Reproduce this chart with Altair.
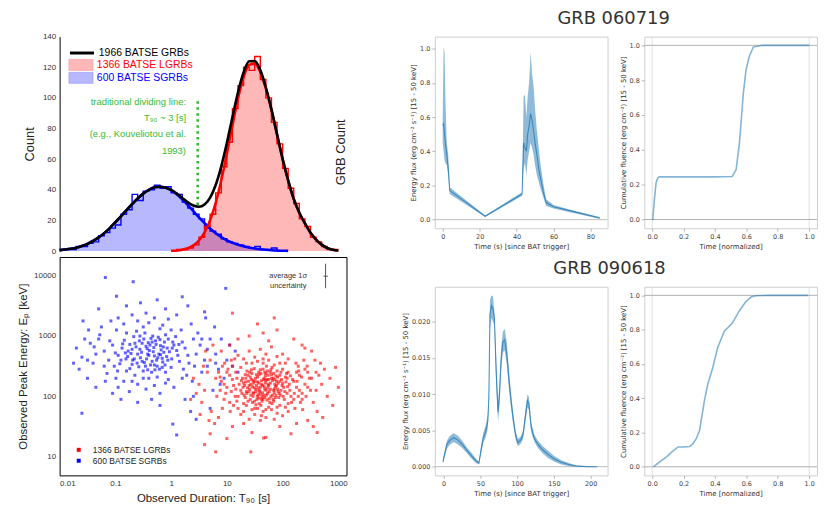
import altair as alt
import pandas as pd

LEFT_FONT = "Liberation Sans"
RIGHT_FONT = "DejaVu Sans"
MPL_BLUE = "#1f77b4"

# ---------------- duration distribution (top-left) ----------------
grid_log_t90 = [-2.0, -1.9, -1.8, -1.7, -1.6, -1.5, -1.4, -1.3, -1.2, -1.1,
                -1.0, -0.9, -0.8, -0.7, -0.6, -0.5, -0.4, -0.3, -0.2, -0.1,
                0.0, 0.1, 0.2, 0.3, 0.4, 0.5, 0.6, 0.7, 0.8, 0.9,
                1.0, 1.1, 1.2, 1.3, 1.4, 1.5, 1.6, 1.7, 1.8, 1.9,
                2.0, 2.1, 2.2, 2.3, 2.4, 2.5, 2.6, 2.7, 2.8, 2.9, 3.0]
sgrb_fit = [0.6, 1.0, 1.5, 2.2, 3.3, 4.7, 6.6, 8.9, 11.7, 15.0,
            18.8, 22.7, 26.7, 30.6, 34.3, 37.5, 40.0, 41.6, 42.0, 41.4,
            39.7, 37.1, 33.8, 30.0, 26.0, 22.0, 18.2, 14.7, 11.6, 9.1,
            7.0, 5.4, 4.1, 3.1, 2.3, 1.7, 1.2, 0.8, 0.5, 0.3,
            0.2, 0.1, 0, 0, 0, 0, 0, 0, 0, 0, 0]
lgrb_fit = [0, 0, 0, 0, 0, 0, 0, 0, 0, 0,
            0, 0, 0, 0, 0, 0, 0, 0, 0, 0,
            0.2, 0.4, 0.9, 1.8, 3.7, 6.9, 12.2, 20.2, 31.5, 46.2,
            63.5, 82.0, 99.6, 113.5, 121.6, 122.4, 117.0, 106.0, 92.0, 76.0,
            60.0, 46.0, 34.0, 25.0, 18.0, 12.0, 7.5, 4.2, 2.0, 0.8, 0.3]
all_fit = [0.6, 1.0, 1.5, 2.2, 3.3, 4.7, 6.6, 8.9, 11.7, 15.0,
           18.8, 22.7, 26.7, 30.6, 34.3, 37.5, 40.0, 41.6, 42.0, 41.4,
           39.9, 37.5, 34.7, 31.8, 29.7, 28.9, 30.4, 34.9, 43.1, 55.3,
           70.5, 87.4, 103.7, 116.6, 123.9, 124.1, 118.2, 106.8, 92.5, 76.3,
           60.2, 46.1, 34.0, 25.0, 18.0, 12.0, 7.5, 4.2, 2.0, 0.8, 0.3]
# histogram counts per 0.1-dex bin (left edges = grid_log_t90[:-1])
sgrb_counts = [1, 1, 1, 3, 3, 5, 6, 10, 12, 15,
               17, 24, 27, 37, 33, 39, 40, 43, 41, 42,
               38, 37, 32, 28, 24, 21, 15, 13, 11, 8,
               6, 5, 4, 3, 2, 3, 1, 1, 2, 0,
               0, 0, 0, 0, 0, 0, 0, 0, 0, 0]
lgrb_counts = [0, 0, 0, 0, 0, 0, 0, 0, 0, 0,
               0, 0, 0, 0, 0, 0, 0, 0, 0, 0,
               0, 1, 1, 2, 4, 9, 16, 24, 38, 55,
               71, 93, 108, 120, 118, 127, 112, 100, 84, 70,
               54, 41, 31, 21, 16, 9, 6, 3, 1, 1]
hist_legend_entries = ["1966 BATSE GRBs", "1366 BATSE LGRBs", "600 BATSE SGRBs"]
divider_t90 = 3.0
divider_counts = [30, 100]
divider_text = ["traditional dividing line:", "T\u2089\u2080 ~ 3 [s]",
                "(e.g., Kouveliotou et al.", "1993)"]
divider_text_t90 = 1.85
divider_text_counts = [97.6, 86.7, 76.4, 65.5]

# ---------------- T90 - Ep scatter (bottom-left), log10 values ----------------
sgrb_points = [
    (-0.42, 2.70), (-0.31, 2.81), (-0.55, 2.64), (-0.18, 2.77), (-0.65, 2.88), (-0.37, 2.52), (-0.08, 2.66),
    (-0.49, 2.95), (-0.26, 2.60), (-0.72, 2.71), (-0.12, 2.90), (-0.58, 2.49), (-0.33, 3.00), (-0.03, 2.74),
    (-0.81, 2.62), (-0.45, 2.83), (-0.21, 2.45), (-0.67, 2.99), (0.05, 2.85), (-0.52, 2.58), (-0.39, 2.76),
    (-0.15, 2.57), (-0.88, 2.80), (-0.28, 2.92), (-0.61, 2.55), (0.01, 2.62), (-0.47, 3.05), (-0.74, 2.46),
    (-0.22, 2.70), (-0.95, 2.68), (-0.35, 2.40), (0.10, 2.76), (-0.56, 2.78), (-0.10, 3.02), (-0.69, 2.60),
    (-0.41, 2.89), (-0.19, 2.84), (-0.84, 2.93), (-0.30, 2.67), (0.15, 2.58), (-0.50, 2.42), (-0.05, 2.95),
    (-0.77, 2.75), (-0.25, 2.50), (-0.62, 3.08), (-0.13, 2.73), (-0.44, 2.62), (-0.92, 2.54), (0.08, 2.99),
    (-0.36, 2.96), (-0.40, 2.68), (-0.27, 2.86), (-0.53, 2.73), (-0.16, 2.63), (-0.63, 2.82), (-0.34, 2.58),
    (-0.07, 2.80), (-0.46, 2.50), (-0.23, 2.98), (-0.78, 2.66), (-0.11, 2.52), (-0.57, 2.92), (-0.32, 2.74),
    (0.03, 2.90), (-0.70, 2.53), (-0.43, 2.79), (-0.19, 2.69), (-0.87, 2.87), (-0.29, 2.44), (0.12, 2.68),
    (-1.05, 2.85), (-1.12, 2.60), (-0.98, 3.10), (-1.20, 2.75), (-1.30, 2.95), (-1.15, 2.38), (-1.02, 2.50),
    (-1.35, 2.70), (-1.25, 3.15), (-1.40, 2.55), (-1.08, 3.25), (-1.45, 2.88), (-1.18, 2.25), (-0.99, 2.30),
    (-1.28, 3.02), (0.25, 2.80), (0.32, 2.55), (0.40, 2.95), (0.18, 3.10), (0.45, 2.70), (0.28, 2.35),
    (0.52, 2.85), (0.36, 3.20), (0.60, 2.60), (0.22, 2.45), (0.48, 3.05), (0.65, 2.78), (0.38, 2.25),
    (0.70, 2.95), (0.55, 2.40), (-0.60, 3.25), (-0.30, 3.30), (-0.85, 3.20), (-0.05, 3.28), (-0.45, 3.38),
    (-0.70, 3.35), (-0.15, 3.18), (-0.95, 3.30), (-0.40, 3.22), (0.10, 3.35), (-0.60, 2.20), (-0.30, 2.18),
    (-0.85, 2.25), (-0.05, 2.28), (-0.45, 2.12), (-0.75, 2.08), (-0.20, 2.05), (0.05, 2.15), (-0.50, 2.30),
    (-0.95, 2.15), (-0.25, 2.32), (-0.65, 2.35), (-0.10, 2.40), (-0.80, 2.42), (0.00, 2.48), (-1.60, 2.65),
    (-1.55, 2.95), (-1.65, 2.45), (-1.50, 2.30), (-1.70, 2.80), (-1.48, 3.10), (-1.75, 2.55), (-1.58, 3.25),
    (0.80, 2.70), (0.85, 2.45), (0.90, 2.95), (0.78, 3.15), (0.95, 2.30), (1.00, 2.60), (0.88, 2.20),
    (1.05, 2.85), (0.75, 2.10), (1.10, 2.50), (-0.55, 3.55), (-0.98, 3.66), (-1.18, 3.97), (-0.68, 3.90),
    (0.98, 3.79), (-0.25, 3.60), (0.30, 3.50), (-1.30, 3.45), (0.60, 3.40), (-0.80, 3.50), (0.20, 3.65),
    (-0.10, 3.45), (-1.60, 1.72), (-0.60, 1.90), (-0.20, 1.85), (0.40, 2.00), (0.70, 1.80), (0.45, 1.62),
    (-1.05, 2.05), (-1.35, 2.15), (0.25, 1.95), (-0.35, 1.95), (1.20, 2.40), (1.15, 2.75), (0.62, 3.30),
    (0.35, 1.75), (-0.90, 1.95), (0.03, 1.54), (0.10, 1.36),
    (-0.38, 2.85), (-0.24, 2.64), (-0.60, 2.70), (-0.14, 2.82), (-0.48, 2.56), (-0.70, 2.78), (-0.30, 2.52),
    (-0.06, 2.60), (-0.52, 2.88), (-0.20, 2.94), (-0.82, 2.72), (-0.42, 2.44), (0.02, 2.80), (-0.66, 2.62),
    (-0.34, 2.90), (-0.90, 2.60), (-0.16, 2.48), (-0.56, 3.00), (0.14, 2.86), (-0.74, 2.86), (-1.00, 2.72),
    (-1.10, 2.92), (-0.96, 2.42), (0.30, 2.68), (0.42, 2.50), (0.20, 2.90), (-0.50, 3.15), (-0.20, 3.12),
    (-0.80, 3.05), (0.00, 3.10), (-0.40, 2.30), (-0.70, 2.25), (-0.10, 2.22), (0.20, 2.30), (-1.20, 2.50),
    (-1.38, 2.82), (0.55, 2.95), (0.65, 2.50), (-1.50, 2.60), (0.80, 2.55),
]
lgrb_points = [
    (1.60, 2.15), (1.72, 2.28), (1.48, 2.05), (1.85, 2.12), (1.55, 2.32), (1.68, 1.98), (1.92, 2.22),
    (1.40, 2.18), (1.78, 2.40), (1.63, 1.92), (1.50, 2.25), (1.88, 2.02), (1.35, 2.08), (1.95, 2.35),
    (1.70, 2.10), (1.45, 2.38), (2.02, 2.15), (1.58, 1.88), (1.80, 2.30), (1.30, 2.22), (1.65, 2.45),
    (2.08, 2.05), (1.42, 1.95), (1.75, 2.18), (1.52, 2.12), (1.98, 2.28), (1.38, 2.35), (1.83, 1.95),
    (1.62, 2.26), (2.12, 2.20), (1.25, 2.10), (1.90, 2.42), (1.47, 2.00), (1.73, 2.05), (1.57, 2.40),
    (2.05, 2.32), (1.33, 1.98), (1.86, 2.20), (1.66, 2.02), (1.44, 2.28), (1.28, 2.30), (1.97, 2.10),
    (1.54, 1.95), (1.81, 2.48), (1.69, 2.22), (2.15, 2.00), (1.36, 2.42), (1.77, 1.90), (1.59, 2.08),
    (2.00, 2.45), (1.22, 2.20), (1.93, 1.98), (1.49, 2.46), (1.74, 2.35), (1.61, 1.85), (2.18, 2.28),
    (1.31, 2.02), (1.84, 2.38), (1.67, 2.16), (1.41, 2.12), (1.20, 2.00), (1.89, 2.25), (1.53, 2.18),
    (1.79, 2.00), (1.46, 1.90), (2.10, 2.40), (1.39, 2.25), (1.71, 2.50), (1.56, 2.03), (2.03, 1.95),
    (1.62, 2.20), (1.76, 2.08), (1.51, 2.30), (1.87, 2.16), (1.43, 2.02), (1.69, 2.34), (1.94, 2.05),
    (1.57, 1.97), (1.82, 2.26), (1.37, 2.14), (1.64, 2.06), (1.79, 2.44), (1.48, 2.22), (2.06, 2.24),
    (1.34, 2.30), (1.72, 1.94), (1.58, 2.36), (1.91, 2.32), (1.27, 2.05), (1.85, 2.06), (1.66, 2.28),
    (1.52, 2.08), (2.13, 2.10), (1.41, 2.40), (1.73, 2.14), (1.97, 2.40), (1.46, 2.16), (1.81, 1.88),
    (1.60, 2.44), (2.01, 2.00), (1.68, 2.12), (1.55, 2.24), (1.88, 2.34), (1.32, 2.18), (1.78, 2.22),
    (1.63, 2.00), (2.08, 2.30), (1.50, 1.92), (1.84, 2.10), (1.70, 2.38),
    (1.00, 2.15), (1.05, 2.35), (0.95, 1.95), (1.10, 2.50), (0.90, 2.25), (1.12, 1.85), (0.98, 2.05),
    (1.08, 2.60), (0.85, 2.40), (1.15, 2.00), (0.88, 2.10), (1.02, 2.45), (0.92, 1.80), (1.18, 2.30),
    (0.82, 2.00), (1.14, 2.62), (0.96, 2.55), (1.06, 1.75), (0.80, 2.30), (1.16, 2.12), (2.25, 2.15),
    (2.30, 2.35), (2.20, 1.95), (2.35, 2.05), (2.28, 2.50), (2.40, 2.20), (2.22, 1.80), (2.45, 2.40),
    (2.32, 1.90), (2.38, 2.60), (2.26, 2.25), (2.42, 2.00), (2.48, 2.30), (2.24, 2.55), (2.36, 1.78),
    (2.50, 2.10), (2.29, 2.42), (2.44, 2.50), (2.21, 2.05), (2.34, 2.32), (1.50, 2.65), (1.70, 2.70),
    (1.30, 2.62), (1.90, 2.66), (1.60, 2.78), (1.80, 2.82), (1.40, 2.75), (2.00, 2.70), (1.20, 2.68),
    (2.10, 2.62), (1.55, 2.58), (1.75, 2.60), (1.35, 2.55), (1.95, 2.55), (1.65, 2.62), (1.50, 1.70),
    (1.70, 1.65), (1.30, 1.75), (1.90, 1.72), (1.60, 1.60), (1.80, 1.78), (1.40, 1.62), (2.00, 1.68),
    (1.20, 1.80), (2.10, 1.75), (1.55, 1.80), (1.75, 1.82), (1.35, 1.85), (1.95, 1.85), (1.65, 1.75),
    (1.45, 1.78), (1.85, 1.62), (2.05, 1.82), (1.25, 1.70), (1.62, 1.68),
    (0.60, 2.10), (0.65, 2.40), (0.55, 1.90), (0.70, 2.60), (0.50, 2.20), (0.72, 1.75), (0.62, 2.75),
    (0.45, 2.05), (0.68, 1.60), (0.58, 2.50), (0.40, 2.30), (0.75, 2.85), (0.35, 1.95), (0.52, 1.70),
    (0.78, 1.55), (2.60, 2.10), (2.65, 2.35), (2.55, 1.90), (2.70, 2.20), (2.58, 2.60), (2.75, 2.45),
    (2.62, 1.75), (2.80, 2.00), (2.68, 2.55), (2.85, 2.30), (2.90, 1.85), (2.95, 2.48), (2.72, 1.65),
    (2.52, 2.75), (3.00, 2.15), (1.40, 3.00), (1.65, 3.05), (1.90, 3.10), (1.20, 2.95), (2.20, 2.95),
    (1.55, 3.20), (1.75, 2.92), (2.35, 2.85), (1.05, 2.85), (1.85, 3.30), (1.45, 1.40), (1.95, 1.50),
    (1.10, 1.50), (2.25, 1.55), (1.70, 1.32), (2.45, 1.60), (1.30, 1.55), (2.15, 1.38), (0.85, 1.65),
    (2.55, 1.50), (0.90, 2.75), (2.40, 2.80), (0.70, 1.38), (1.00, 1.30), (2.62, 1.40), (1.10, 3.38),
    (0.60, 1.20), (0.80, 1.08), (1.43, 1.08), (1.66, 1.31),
    (1.58, 2.10), (1.74, 2.20), (1.49, 2.14), (1.83, 2.30), (1.65, 1.95), (1.91, 2.12), (1.42, 2.32),
    (1.70, 2.26), (1.55, 2.00), (1.99, 2.18), (1.36, 2.05), (1.78, 2.12), (1.61, 2.38), (1.87, 1.98),
    (1.47, 2.26), (2.04, 2.08), (1.29, 2.15), (1.82, 2.02), (1.67, 2.30), (1.52, 1.86), (1.95, 2.25),
    (1.40, 2.08), (1.73, 2.42), (1.60, 2.04), (2.09, 2.16), (1.34, 2.24), (1.86, 2.28), (1.56, 2.14),
    (1.76, 1.96), (1.44, 2.44), (2.14, 2.34), (1.64, 2.18), (1.92, 2.08), (1.38, 1.92), (1.71, 2.02),
    (1.53, 2.36), (1.89, 2.18), (1.47, 2.06), (1.80, 2.36), (2.00, 2.22), (1.26, 2.26), (1.68, 2.40),
    (1.57, 2.22), (1.84, 1.92), (1.43, 2.20), (1.96, 2.02), (1.33, 2.36), (1.75, 2.28), (1.62, 1.96),
    (2.07, 2.38), (1.12, 2.18), (1.16, 2.40), (1.08, 2.08), (2.20, 2.25), (2.25, 2.40), (2.16, 1.90),
    (1.18, 1.92), (2.30, 2.10), (1.10, 2.28), (2.28, 2.00), (1.45, 2.55), (1.85, 2.52), (1.65, 2.55),
    (1.25, 2.48), (2.05, 2.55), (1.50, 1.80), (1.90, 1.82), (1.70, 1.78), (1.30, 1.88), (2.10, 1.88),
    (1.00, 2.40), (0.95, 2.20), (2.40, 2.45), (2.35, 1.95), (0.88, 2.32), (2.45, 2.15), (1.05, 1.90),
    (2.52, 2.30), (0.92, 2.50), (2.60, 2.40),
]
scatter_labels = ["1366 BATSE LGRBs", "600 BATSE SGRBs"]
uncert_center = (590, 9800)
uncert_t90_range = (540, 650)
uncert_ep_range = (6200, 15800)
uncert_text_pos = (126, 9800)

# ---------------- GRB light curves (right) ----------------
g060719_t = [0.0, 0.5, 1.0, 1.5, 2.2, 3.0, 3.8, 23.0, 43.0, 43.8, 44.5, 45.3, 46.0, 46.8, 47.6,
             48.4, 49.2, 50.0, 51.0, 52.0, 53.0, 54.5, 56.0, 60.0, 70.0, 85.0]
g060719_lo = [0.45, 0.40, 0.35, 0.33, 0.32, 0.26, 0.15, 0.015, 0.14, 0.30, 0.33, 0.26, 0.35, 0.40,
              0.45, 0.42, 0.38, 0.32, 0.26, 0.22, 0.18, 0.13, 0.08, 0.065, 0.04, 0.005]
g060719_mid = [0.55, 0.56, 0.50, 0.45, 0.38, 0.30, 0.17, 0.02, 0.15, 0.45, 0.42, 0.40, 0.50, 0.55,
               0.62, 0.58, 0.52, 0.45, 0.38, 0.30, 0.24, 0.16, 0.10, 0.075, 0.05, 0.01]
g060719_hi = [0.60, 1.01, 0.98, 0.70, 0.45, 0.38, 0.19, 0.025, 0.16, 0.72, 0.73, 0.60, 0.72, 0.80,
              0.98, 0.85, 0.78, 0.65, 0.52, 0.42, 0.32, 0.21, 0.12, 0.085, 0.055, 0.015]
g060719_cum_x = [0.0, 0.004, 0.015, 0.025, 0.035, 0.045, 0.2, 0.4, 0.51, 0.535, 0.556, 0.57, 0.581,
                 0.598, 0.619, 0.644, 0.7, 0.85, 1.0]
g060719_cum_y = [0.0, 0.0, 0.12, 0.21, 0.237, 0.245, 0.245, 0.245, 0.247, 0.287, 0.44, 0.60, 0.726,
                 0.86, 0.937, 0.99, 1.0, 1.0, 1.0]

g090618_t = [-1, 2, 4.5, 8, 13.5, 19, 25, 32, 38, 44, 48, 51, 54, 57, 60, 61.5, 63, 65, 67, 69, 71.5, 74,
             76, 78, 80.5, 83, 86, 89, 92, 95, 98, 101, 105, 108, 111, 114, 116, 119, 123, 128, 135, 142,
             150, 160, 170, 180, 195, 209]
g090618_lo = [0.0004, 0.0015, 0.0025, 0.0030, 0.0034, 0.0031, 0.0026, 0.0018, 0.0011, 0.0005, 0.0003,
              0.0018, 0.0033, 0.0040, 0.0052, 0.0085, 0.0190, 0.0205, 0.0200, 0.0195, 0.0110, 0.0062,
              0.0085, 0.0130, 0.0158, 0.0160, 0.0140, 0.0105, 0.0078, 0.0055, 0.0037, 0.0028, 0.0032,
              0.0038, 0.0060, 0.0082, 0.0078, 0.0048, 0.0035, 0.0026, 0.0018, 0.0012, 0.0007, 0.0003,
              0.0001, 0.0000, 0.0000, 0.0000]
g090618_mid = [0.0007, 0.0020, 0.0031, 0.0036, 0.0040, 0.0037, 0.0031, 0.0022, 0.0015, 0.0008, 0.0005,
               0.0024, 0.0040, 0.0048, 0.0062, 0.0095, 0.0210, 0.0222, 0.0218, 0.0205, 0.0130, 0.0075,
               0.0100, 0.0145, 0.0172, 0.0175, 0.0155, 0.0118, 0.0088, 0.0063, 0.0043, 0.0033, 0.0037,
               0.0044, 0.0068, 0.0091, 0.0087, 0.0055, 0.0040, 0.0031, 0.0023, 0.0017, 0.0011, 0.0006,
               0.0003, 0.0001, 0.0000, 0.0000]
g090618_hi = [0.0010, 0.0025, 0.0036, 0.0042, 0.0046, 0.0043, 0.0036, 0.0026, 0.0019, 0.0011, 0.0007,
              0.0030, 0.0047, 0.0056, 0.0072, 0.0105, 0.0230, 0.0236, 0.0235, 0.0215, 0.0150, 0.0088,
              0.0115, 0.0160, 0.0186, 0.0190, 0.0170, 0.0131, 0.0098, 0.0071, 0.0049, 0.0038, 0.0042,
              0.0050, 0.0076, 0.0100, 0.0096, 0.0062, 0.0045, 0.0036, 0.0028, 0.0022, 0.0015, 0.0009,
              0.0005, 0.0002, 0.0001, 0.0000]
g090618_cum_x = [0.008, 0.05, 0.092, 0.13, 0.165, 0.2, 0.239, 0.26, 0.281, 0.302, 0.333, 0.354, 0.386,
                 0.417, 0.459, 0.511, 0.553, 0.596, 0.63, 0.658, 0.75, 0.9, 0.994]
g090618_cum_y = [0.0, 0.03, 0.058, 0.09, 0.116, 0.116, 0.118, 0.135, 0.164, 0.212, 0.386, 0.48, 0.578,
                 0.694, 0.79, 0.838, 0.906, 0.963, 0.99, 0.998, 1.0, 1.0, 1.0]

FLUX_TITLE = "Energy flux (erg cm\u207b\u00b2 s\u207b\u00b9) [15 - 50 keV]"
FLUENCE_TITLE = "Cumulative fluence (erg cm\u207b\u00b2) [15 - 50 keV]"

# ================= build: duration histogram =================
T90_SCALE = alt.Scale(type="log", domain=[0.01, 1400], nice=False)
COUNT_SCALE = alt.Scale(domain=[0, 140], nice=False)
COUNT_AXIS = alt.Axis(values=[0, 20, 40, 60, 80, 100, 120, 140], title="Count", ticks=False,
                      labelPadding=4, domainColor="#000000", grid=False, labelFont=LEFT_FONT,
                      labelFontSize=8, labelColor="#333333", titleFont=LEFT_FONT, titleFontSize=13,
                      titleFontWeight="normal", titleColor="#222222", titlePadding=6)

fit_df = pd.DataFrame({"t90": [10 ** v for v in grid_log_t90], "logt": grid_log_t90,
                       "sgrb": sgrb_fit, "lgrb": lgrb_fit, "all": all_fit})
step_df = pd.DataFrame({"t90": [10 ** v for v in grid_log_t90], "logt": grid_log_t90,
                        "sgrb": sgrb_counts + [sgrb_counts[-1]],
                        "lgrb": lgrb_counts + [lgrb_counts[-1]]})

xh = alt.X("t90:Q", scale=T90_SCALE, axis=None)


def ycount(field):
    return alt.Y(f"{field}:Q", scale=COUNT_SCALE, axis=COUNT_AXIS)


s_fit = alt.Chart(fit_df[fit_df.logt <= 2.1])
l_fit = alt.Chart(fit_df[fit_df.logt >= 0.0])
area_s = s_fit.mark_area(color="#0000ff", opacity=0.28, interpolate="monotone").encode(x=xh, y=ycount("sgrb"))
area_l = l_fit.mark_area(color="#ff0000", opacity=0.28, interpolate="monotone").encode(x=xh, y=ycount("lgrb"))
step_s = alt.Chart(step_df[step_df.logt <= 2.0]).mark_line(
    color="#0000ff", strokeWidth=1.4, interpolate="step-after").encode(x=xh, y=ycount("sgrb"))
step_l = alt.Chart(step_df[step_df.logt >= 0.0]).mark_line(
    color="#ff0000", strokeWidth=1.4, interpolate="step-after").encode(x=xh, y=ycount("lgrb"))
line_s = s_fit.mark_line(color="#0000ff", strokeWidth=2.6, interpolate="monotone").encode(x=xh, y=ycount("sgrb"))
line_l = l_fit.mark_line(color="#ff0000", strokeWidth=2.6, interpolate="monotone").encode(x=xh, y=ycount("lgrb"))
line_a = alt.Chart(fit_df).mark_line(color="#000000", strokeWidth=2.6, interpolate="monotone").encode(
    x=xh, y=ycount("all"))

div_df = pd.DataFrame({"t90": [divider_t90], "c0": [divider_counts[0]], "c1": [divider_counts[1]]})
divider = alt.Chart(div_df).mark_rule(color="#33bb33", strokeWidth=2.6, strokeDash=[2.5, 3.5]).encode(
    x=xh, y=alt.Y("c0:Q", scale=COUNT_SCALE, axis=COUNT_AXIS), y2="c1:Q")
divtxt_df = pd.DataFrame({"txt": divider_text, "c": divider_text_counts,
                          "t90": [divider_text_t90] * len(divider_text)})
divtext = alt.Chart(divtxt_df).mark_text(align="right", baseline="middle", color="#33bb33",
                                        font=LEFT_FONT, fontSize=9.5).encode(
    x=xh, y=alt.Y("c:Q", scale=COUNT_SCALE, axis=COUNT_AXIS), text="txt:N")

leg_df = pd.DataFrame({"e0": [hist_legend_entries[0]], "e1": [hist_legend_entries[1]],
                       "e2": [hist_legend_entries[2]]})
leg_all = alt.Chart(leg_df).mark_point(filled=False, opacity=0).encode(
    stroke=alt.Stroke("e0:N", scale=alt.Scale(domain=[hist_legend_entries[0]], range=["#000000"]),
                      legend=alt.Legend(title=None, orient="none", legendX=15.5, legendY=9.5, padding=0,
                                        labelFont=LEFT_FONT, labelFontSize=10.5, labelOffset=10,
                                        labelColor="#000000", symbolSize=121, symbolOpacity=1,
                                        symbolType="M-2.2,0H2.2", symbolStrokeWidth=3)))
leg_l = alt.Chart(leg_df).mark_point(filled=True, opacity=0).encode(
    fill=alt.Fill("e1:N", scale=alt.Scale(domain=[hist_legend_entries[1]], range=["#ffb8b8"]),
                  legend=alt.Legend(title=None, orient="none", legendX=15.5, legendY=22.5, padding=0,
                                    labelFont=LEFT_FONT, labelFontSize=10.5, labelOffset=10,
                                    labelColor="#ff0000", symbolSize=121, symbolOpacity=1,
                                    symbolType="M-2.2,-1H2.2V1H-2.2Z", symbolStrokeColor="#ff9a9a",
                                    symbolStrokeWidth=0.7)))
leg_s = alt.Chart(leg_df).mark_point(filled=True, opacity=0).encode(
    color=alt.Color("e2:N", scale=alt.Scale(domain=[hist_legend_entries[2]], range=["#b8b8ff"]),
                    legend=alt.Legend(title=None, orient="none", legendX=15.5, legendY=35.5, padding=0,
                                      labelFont=LEFT_FONT, labelFontSize=10.5, labelOffset=10,
                                      labelColor="#0000ff", symbolSize=121, symbolOpacity=1,
                                      symbolType="M-2.2,-1H2.2V1H-2.2Z", symbolStrokeColor="#9a9aff",
                                      symbolStrokeWidth=0.7)))

main_hist = alt.layer(area_s, area_l, step_s, step_l, line_s, line_l, line_a, divider, divtext,
                      leg_all, leg_l, leg_s)
grb_count = alt.Chart(fit_df).mark_line(opacity=0).encode(
    x=xh,
    y=alt.Y("all:Q", scale=alt.Scale(domain=[0, 140], nice=False),
            axis=alt.Axis(orient="right", title="GRB Count", labels=False, ticks=False, domain=False,
                          grid=False, titleX=1, titleY=116, titleAngle=270, titleFont=LEFT_FONT,
                          titleFontSize=13, titleFontWeight="normal", titleColor="#222222")))
hist = alt.layer(main_hist, grb_count).resolve_scale(y="independent").properties(
    width=289, height=216, view=alt.ViewBackground(stroke="transparent"))

# ================= build: scatter =================
sc_rows = ([{"t90": 10 ** a, "ep": 10 ** b, "sample": scatter_labels[1]} for a, b in sgrb_points] +
           [{"t90": 10 ** a, "ep": 10 ** b, "sample": scatter_labels[0]} for a, b in lgrb_points])
sc_df = pd.DataFrame(sc_rows)
EP_SCALE = alt.Scale(type="log", domain=[4.9, 20400], nice=False)
SC_X_AXIS = alt.Axis(values=[0.01, 0.1, 1, 10, 100, 1000], format="~g",
                     title="Observed Duration: T\u2089\u2080 [s]", ticks=False, labelPadding=4,
                     domain=False, grid=False, labelFont=LEFT_FONT, labelFontSize=8,
                     labelColor="#333333", titleFont=LEFT_FONT, titleFontSize=11.5,
                     titleFontWeight="normal", titleColor="#222222", titlePadding=5)
SC_Y_AXIS = alt.Axis(values=[10, 100, 1000, 10000], format="d",
                     title="Observed Peak Energy: E\u209a [keV]", ticks=False, labelPadding=4,
                     domain=False, grid=False, labelFont=LEFT_FONT, labelFontSize=8,
                     labelColor="#333333", titleFont=LEFT_FONT, titleFontSize=11.5,
                     titleFontWeight="normal", titleColor="#222222", titlePadding=5)
points = alt.Chart(sc_df).mark_point(shape="square", filled=True, size=9, opacity=0.62).encode(
    x=alt.X("t90:Q", scale=T90_SCALE, axis=SC_X_AXIS),
    y=alt.Y("ep:Q", scale=EP_SCALE, axis=SC_Y_AXIS),
    color=alt.Color("sample:N", scale=alt.Scale(domain=scatter_labels, range=["#ff0000", "#0000ff"]),
                    legend=alt.Legend(title=None, orient="none", legendX=15, legendY=190, padding=0,
                                      rowPadding=2, labelFont=LEFT_FONT, labelFontSize=8.5,
                                      labelColor="#222222", labelOffset=10, symbolType="square",
                                      symbolSize=16, symbolOpacity=1)))
unc_df = pd.DataFrame({"t": [uncert_center[0]], "e": [uncert_center[1]],
                       "t0": [uncert_t90_range[0]], "t1": [uncert_t90_range[1]],
                       "e0": [uncert_ep_range[0]], "e1": [uncert_ep_range[1]],
                       "tt": [uncert_text_pos[0]], "te": [uncert_text_pos[1]],
                       "label": ["average 1\u03c3\nuncertainty"]})
unc_v = alt.Chart(unc_df).mark_rule(color="#555555", strokeWidth=1).encode(
    x=alt.X("t:Q", scale=T90_SCALE, axis=SC_X_AXIS),
    y=alt.Y("e0:Q", scale=EP_SCALE, axis=SC_Y_AXIS), y2="e1:Q")
unc_h = alt.Chart(unc_df).mark_rule(color="#555555", strokeWidth=1).encode(
    x=alt.X("t0:Q", scale=T90_SCALE, axis=SC_X_AXIS), x2="t1:Q",
    y=alt.Y("e:Q", scale=EP_SCALE, axis=SC_Y_AXIS))
unc_t = alt.Chart(unc_df).mark_text(align="center", baseline="middle", lineBreak="\n", font=LEFT_FONT,
                                   fontSize=7.5, color="#333333", lineHeight=10).encode(
    x=alt.X("tt:Q", scale=T90_SCALE, axis=SC_X_AXIS), y=alt.Y("te:Q", scale=EP_SCALE, axis=SC_Y_AXIS),
    text="label:N")
scatter = alt.layer(points, unc_v, unc_h, unc_t).properties(
    width=289, height=220, view=alt.ViewBackground(stroke="#000000", strokeWidth=1))

left = alt.vconcat(hist, scatter, spacing=-5).resolve_scale(color="independent")


# ================= build: right panels =================
def raxis(values, fmt, title):
    return alt.Axis(values=values, format=fmt, title=title, grid=False, domain=False,
                    tickColor="#b5b5b5", tickSize=3, labelFont=RIGHT_FONT, labelFontSize=6.5,
                    labelColor="#444444", labelPadding=2, titleFont=RIGHT_FONT, titleFontSize=7,
                    titleFontWeight="normal", titleColor="#333333", titlePadding=3)


FRAME = alt.ViewBackground(stroke="#cfcfcf", strokeWidth=1)


def flux_panel(t, lo, mid, hi, xdom, ydom, xvals, yvals, yfmt, height):
    df = pd.DataFrame({"t": t, "lo": lo, "mid": mid, "hi": hi})
    x = alt.X("t:Q", scale=alt.Scale(domain=xdom, nice=False, zero=False),
              axis=raxis(xvals, "d", "Time (s) [since BAT trigger]"))
    ys = alt.Scale(domain=ydom, nice=False, zero=False)
    yax = raxis(yvals, yfmt, FLUX_TITLE)
    zero = alt.Chart(pd.DataFrame({"z": [0]})).mark_rule(color="#bdbdbd", strokeWidth=1).encode(
        y=alt.Y("z:Q", scale=ys, axis=yax))
    band = alt.Chart(df).mark_area(color=MPL_BLUE, opacity=0.5).encode(
        x=x, y=alt.Y("lo:Q", scale=ys, axis=yax), y2="hi:Q")
    line = alt.Chart(df).mark_line(color=MPL_BLUE, strokeWidth=1.1, opacity=0.75).encode(
        x=x, y=alt.Y("mid:Q", scale=ys, axis=yax))
    return alt.layer(zero, band, line).properties(width=174, height=height, view=FRAME)


def cum_panel(cx, cy, height):
    df = pd.DataFrame({"x": cx, "y": cy})
    xs = alt.Scale(domain=[-0.05, 1.05], nice=False, zero=False)
    ys = alt.Scale(domain=[-0.05, 1.05], nice=False, zero=False)
    ticks = [0.0, 0.2, 0.4, 0.6, 0.8, 1.0]
    xax = raxis(ticks, ".1f", "Time [normalized]")
    yax = raxis(ticks, ".1f", FLUENCE_TITLE)
    refs = pd.DataFrame({"v": [0.0, 1.0]})
    hlines = alt.Chart(refs).mark_rule(color="#b0b0b0", strokeWidth=1).encode(
        y=alt.Y("v:Q", scale=ys, axis=yax))
    vlines = alt.Chart(refs).mark_rule(color="#e0e0e0", strokeWidth=1).encode(
        x=alt.X("v:Q", scale=xs, axis=xax))
    line = alt.Chart(df).mark_line(color=MPL_BLUE, strokeWidth=1.6, opacity=0.55).encode(
        x=alt.X("x:Q", scale=xs, axis=xax), y=alt.Y("y:Q", scale=ys, axis=yax))
    return alt.layer(vlines, hlines, line).properties(width=174, height=height, view=FRAME)


p1 = flux_panel(g060719_t, g060719_lo, g060719_mid, g060719_hi, [-4.25, 89.25], [-0.05, 1.07],
                [0, 20, 40, 60, 80], [0.0, 0.2, 0.4, 0.6, 0.8, 1.0], ".1f", 193)
p2 = cum_panel(g060719_cum_x, g060719_cum_y, 193)
p3 = flux_panel(g090618_t, g090618_lo, g090618_mid, g090618_hi, [-12, 223], [-0.0012, 0.0248],
                [0, 50, 100, 150, 200], [0.0, 0.005, 0.010, 0.015, 0.020], ".3f", 190)
p4 = cum_panel(g090618_cum_x, g090618_cum_y, 190)


def row_title(txt):
    return alt.TitleParams(txt, font=RIGHT_FONT, fontSize=18, fontWeight="normal", color="#333333",
                           anchor="middle", offset=8)


row1 = alt.hconcat(p1, p2, spacing=10, title=row_title("GRB 060719"))
row2 = alt.hconcat(p3, p4, spacing=10, title=row_title("GRB 090618"))
right = alt.vconcat(row1, row2, spacing=10)

chart = alt.hconcat(left, right, spacing=52).resolve_scale(color="independent").properties(
    padding={"left": 9, "top": 0, "right": 0, "bottom": 0}
).configure(background="white").configure_view(stroke="#cfcfcf")

chart.save("out.html", embed_options={"renderer": "svg", "actions": False})
